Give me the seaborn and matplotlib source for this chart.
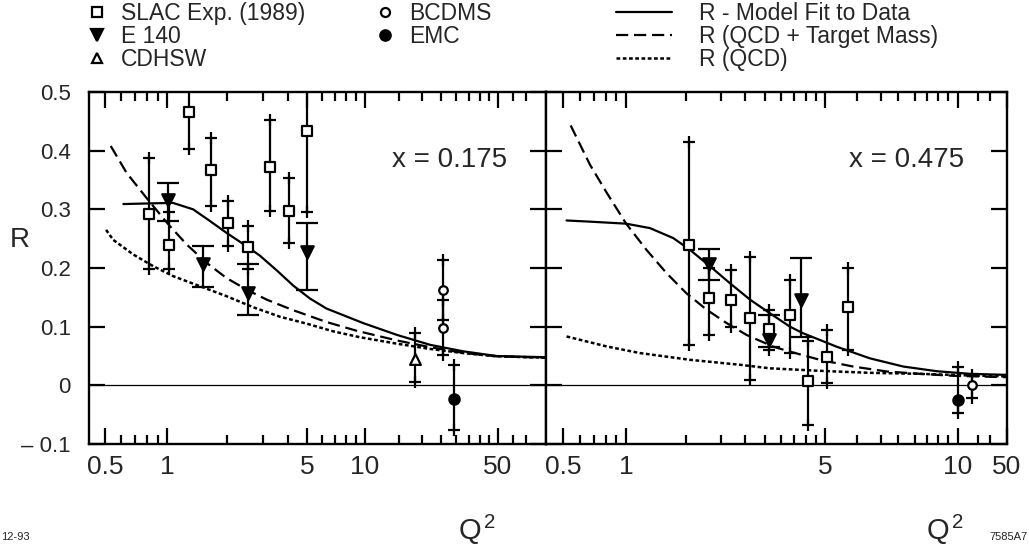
import numpy as np
import matplotlib
matplotlib.use("Agg")
import matplotlib.pyplot as plt
import seaborn as sns
from matplotlib.lines import Line2D

# ---------------- data ----------------
# panel x = 0.175
slac_q_a = [0.82, 1.02, 1.29, 1.65, 2.01, 2.53, 3.27, 4.06, 5.0]
slac_r_a = [0.292, 0.240, 0.466, 0.367, 0.276, 0.235, 0.373, 0.297, 0.433]
slac_lo_a = [0.199, 0.199, 0.402, 0.305, 0.237, 0.199, 0.297, 0.243, 0.295]
slac_hi_a = [0.388, 0.295, 0.530, 0.422, 0.314, 0.272, 0.453, 0.354, 0.570]

e140_q_a = [1.01, 1.51, 2.53, 5.0]
e140_r_a = [0.316, 0.206, 0.158, 0.228]
e140_lo_a = [0.280, 0.168, 0.120, 0.163]
e140_hi_a = [0.345, 0.237, 0.206, 0.276]

cdhsw_q_a = [18.2]
cdhsw_r_a = [0.045]
cdhsw_lo_a = [0.006]
cdhsw_hi_a = [0.089]

bcdms_q_a = [25.6, 25.6]
bcdms_r_a = [0.162, 0.098]
bcdms_lo_a = [0.112, 0.052]
bcdms_hi_a = [0.213, 0.145]

emc_q_a = [29.5]
emc_r_a = [-0.024]
emc_lo_a = [-0.076]
emc_hi_a = [0.035]

fit_q_a = [0.614, 0.80, 1.07, 1.35, 1.64, 1.98, 2.5, 2.91, 3.53, 4.27, 5.18, 6.3,
           9.8, 14.7, 22.0, 32.8, 49.0, 63.0, 89.0]
fit_r_a = [0.309, 0.310, 0.311, 0.300, 0.280, 0.260, 0.237, 0.221, 0.196, 0.170,
           0.148, 0.131, 0.106, 0.086, 0.069, 0.058, 0.050, 0.049, 0.048]
qcdtm_q_a = [0.533, 0.637, 0.797, 1.0, 1.254, 1.58, 1.98, 2.5, 3.15, 4.27, 6.3,
             9.05, 14.7, 22.0, 32.8, 49.0, 89.0]
qcdtm_r_a = [0.408, 0.362, 0.319, 0.277, 0.240, 0.2085, 0.183, 0.163, 0.146,
             0.128, 0.108, 0.093, 0.0765, 0.065, 0.0553, 0.0495, 0.047]
qcd_q_a = [0.506, 0.548, 0.686, 0.858, 1.075, 1.46, 1.98, 2.7, 3.66, 5.0, 6.84,
           9.4, 14.7, 22.0, 32.8, 49.0, 89.0]
qcd_r_a = [0.265, 0.248, 0.223, 0.203, 0.186, 0.169, 0.152, 0.133, 0.117, 0.105,
           0.092, 0.082, 0.071, 0.062, 0.055, 0.0495, 0.047]

# panel x = 0.475
slac_q_b = [1.67, 1.96, 2.34, 2.73, 3.18, 3.77, 4.35, 5.06, 5.63]
slac_r_b = [0.239, 0.149, 0.146, 0.115, 0.096, 0.120, 0.007, 0.049, 0.133]
slac_lo_b = [0.069, 0.086, 0.099, 0.009, 0.060, 0.055, -0.067, 0.004, 0.061]
slac_hi_b = [0.414, 0.200, 0.197, 0.219, 0.128, 0.180, 0.075, 0.095, 0.200]

e140_q_b = [1.96, 3.18, 4.13]
e140_r_b = [0.206, 0.078, 0.146]
e140_lo_b = [0.180, 0.065, 0.083]
e140_hi_b = [0.232, 0.120, 0.217]

emc_q_b = [9.97]
emc_r_b = [-0.025]
emc_lo_b = [-0.047]
emc_hi_b = [0.032]

bcdms_q_b = [15.7]
bcdms_r_b = [0.001]
bcdms_lo_b = [-0.022]
bcdms_hi_b = [0.018]

fit_q_b = [0.52, 0.673, 1.0, 1.214, 1.466, 1.678, 1.973, 2.32, 2.73, 3.2, 3.77,
           4.18, 5.31, 6.32, 7.52, 8.96, 14.8, 43.8, 50.0]
fit_r_b = [0.281, 0.279, 0.2756, 0.268, 0.251, 0.231, 0.203, 0.174, 0.146, 0.123,
           0.100, 0.089, 0.066, 0.046, 0.032, 0.024, 0.0196, 0.018, 0.018]
qcdtm_q_b = [0.544, 0.673, 0.81, 1.0, 1.18, 1.39, 1.63, 1.92, 2.26, 2.65, 3.29,
             3.67, 4.8, 5.79, 6.9, 8.2, 9.76, 43.8, 50.0]
qcdtm_r_b = [0.443, 0.376, 0.328, 0.276, 0.231, 0.191, 0.157, 0.129, 0.106, 0.086,
             0.066, 0.059, 0.0435, 0.032, 0.0236, 0.0196, 0.0162, 0.014, 0.014]
qcd_q_b = [0.52, 0.81, 1.12, 1.678, 2.52, 3.2, 4.8, 6.32, 8.2, 14.8, 43.8, 50.0]
qcd_r_b = [0.0833, 0.0662, 0.055, 0.0435, 0.035, 0.029, 0.0247, 0.0213, 0.0196,
           0.0168, 0.0156, 0.0155]

# axis labels
q_tick_vals = [0.5, 1, 5, 10, 50]
q_tick_text = ["0.5", "1", "5", "10", "50"]
r_tick_vals = [-0.1, 0.0, 0.1, 0.2, 0.3, 0.4, 0.5]
r_tick_text = ["\u2013 0.1", "0", "0.1", "0.2", "0.3", "0.4", "0.5"]
minor_a = [0.6, 0.7, 0.8, 0.9, 2, 3, 4, 6, 7, 8, 9, 15, 20, 25, 30, 35, 40, 45, 60, 70]
minor_b = [0.6, 0.7, 0.8, 0.9, 1.62, 2.15, 2.63, 3.08, 3.5, 3.9, 4.28, 4.65,
           5.9, 6.7, 7.3, 8.0, 8.5, 9.0, 9.5, 19, 29]

# the original Q^2 axes are hand drawn log axes: piecewise log scale
# (Q^2 value, fraction of axis width)
scale_a = ([0.418, 0.5, 1, 5, 10, 50, 89], [0.0, 0.035, 0.1707, 0.477, 0.604, 0.895, 1.0])
scale_b = ([0.415, 0.5, 1, 5, 10, 50], [0.0, 0.0369, 0.1735, 0.605, 0.894, 1.0])

sns.set_theme(style="ticks")
plt.rcParams["font.family"] = ["Liberation Sans", "DejaVu Sans"]
plt.rcParams["mathtext.fontset"] = "custom"
plt.rcParams["mathtext.rm"] = "Liberation Sans"
plt.rcParams["mathtext.it"] = "Liberation Sans"
plt.rcParams["axes.linewidth"] = 1.7
plt.rcParams["axes.edgecolor"] = "black"

DASH = (0, (5.5, 2.6))
DOT = (0, (1.5, 1.0))


def make_scale(qs, us):
    lq = np.log10(qs)

    def fwd(q):
        q = np.clip(np.asarray(q, dtype=float), 1e-6, None)
        return np.interp(np.log10(q), lq, us)

    def inv(u):
        return 10 ** np.interp(np.asarray(u, dtype=float), us, lq)
    return fwd, inv


def draw_points(ax, q, r, lo, hi, marker, face, size, ends):
    q = np.asarray(q, float)
    r = np.asarray(r, float)
    lo = np.asarray(lo, float)
    hi = np.asarray(hi, float)
    ax.errorbar(q, r, yerr=[r - lo, hi - r], fmt="none", ecolor="black",
                elinewidth=1.6, capsize=8 if ends == "cap" else 0,
                capthick=1.6, zorder=3)
    if ends == "plus":
        ax.plot(np.r_[q, q], np.r_[lo, hi], ls="none", marker="+", ms=8.5,
                mew=1.6, color="black", zorder=3)
    sns.scatterplot(x=q, y=r, marker=marker, s=size, color=face,
                    edgecolor="black", linewidth=1.6, zorder=4, ax=ax)


fig = plt.figure(figsize=(10.29, 5.48), dpi=100)
ax1 = fig.add_axes([0.0865, 0.1898, 0.4441, 0.6423])
ax2 = fig.add_axes([0.5306, 0.1898, 0.4480, 0.6423])

# curves
for ax, (fq, fr, tq, tr, cq, cr) in [
        (ax1, (fit_q_a, fit_r_a, qcdtm_q_a, qcdtm_r_a, qcd_q_a, qcd_r_a)),
        (ax2, (fit_q_b, fit_r_b, qcdtm_q_b, qcdtm_r_b, qcd_q_b, qcd_r_b))]:
    sns.lineplot(x=fq, y=fr, sort=False, estimator=None, color="black", lw=1.6, ax=ax)
    sns.lineplot(x=tq, y=tr, sort=False, estimator=None, color="black", lw=1.6,
                 linestyle=DASH, ax=ax)
    sns.lineplot(x=cq, y=cr, sort=False, estimator=None, color="black", lw=1.8,
                 linestyle=DOT, ax=ax)
    ax.axhline(0, color="black", lw=0.9, zorder=1)

# data points
draw_points(ax1, slac_q_a, slac_r_a, slac_lo_a, slac_hi_a, "s", "white", 44, "plus")
draw_points(ax1, e140_q_a, e140_r_a, e140_lo_a, e140_hi_a, "v", "black", 80, "cap")
draw_points(ax1, cdhsw_q_a, cdhsw_r_a, cdhsw_lo_a, cdhsw_hi_a, "^", "white", 60, "plus")
draw_points(ax1, bcdms_q_a, bcdms_r_a, bcdms_lo_a, bcdms_hi_a, "o", "white", 38, "plus")
draw_points(ax1, emc_q_a, emc_r_a, emc_lo_a, emc_hi_a, "o", "black", 55, "plus")

draw_points(ax2, slac_q_b, slac_r_b, slac_lo_b, slac_hi_b, "s", "white", 44, "plus")
draw_points(ax2, e140_q_b, e140_r_b, e140_lo_b, e140_hi_b, "v", "black", 80, "cap")
draw_points(ax2, emc_q_b, emc_r_b, emc_lo_b, emc_hi_b, "o", "black", 55, "plus")
draw_points(ax2, bcdms_q_b, bcdms_r_b, bcdms_lo_b, bcdms_hi_b, "o", "white", 38, "plus")

# axes
for ax, sc, minors in [(ax1, scale_a, minor_a), (ax2, scale_b, minor_b)]:
    ax.set_xscale("function", functions=make_scale(*sc))
    ax.set_xlim(sc[0][0], sc[0][-1])
    ax.set_ylim(-0.1, 0.5)
    ax.set_xticks(q_tick_vals, q_tick_text)
    ax.set_xticks(minors, minor=True)
    ax.set_yticks(r_tick_vals, r_tick_text)
    ax.tick_params(which="both", direction="in", top=True, right=True,
                   width=1.6, color="black")
    ax.tick_params(which="major", length=11.5)
    ax.tick_params(which="minor", length=6.5)
    ax.tick_params(axis="x", labelsize=19, pad=8)
    ax.tick_params(axis="y", labelsize=16, pad=13)
    ax.set_xlabel("Q$^{\\,2}$", fontsize=21)
    ax.set_ylabel("")
    for s in ax.spines.values():
        s.set_visible(True)
        s.set_linewidth(1.7)

ax2.tick_params(axis="y", labelleft=False)
ax1.xaxis.set_label_coords(0.849, -0.195)
ax2.xaxis.set_label_coords(0.866, -0.195)
ax1.set_ylabel("R", fontsize=20, rotation=0, va="center", ha="center")
ax1.yaxis.set_label_coords(-0.151, 0.58)

ax1.text(0.79, 0.807, "x = 0.175", transform=ax1.transAxes, fontsize=20,
         ha="center", va="center")
ax2.text(0.782, 0.807, "x = 0.475", transform=ax2.transAxes, fontsize=20,
         ha="center", va="center")

# legends
blank = Line2D([], [], ls="none")
mk = dict(ls="none", color="black", mec="black", mew=1.6)
h_pts = [Line2D([], [], marker="s", mfc="white", ms=6.5, **mk),
         Line2D([], [], marker="v", mfc="black", ms=8, **mk),
         Line2D([], [], marker="^", mfc="white", ms=7.5, **mk),
         Line2D([], [], marker="o", mfc="white", ms=6.5, **mk),
         Line2D([], [], marker="o", mfc="black", ms=7.5, **mk),
         blank]
l_pts = ["SLAC Exp. (1989)", "E 140", "CDHSW", "BCDMS", "EMC", ""]
fig.legend(h_pts, l_pts, loc="upper left", bbox_to_anchor=(0.0831, 0.997),
           ncol=2, frameon=False, fontsize=16.5, handlelength=1.0,
           handletextpad=0.55, columnspacing=3.0, labelspacing=0.0,
           borderpad=0, borderaxespad=0)

h_lin = [Line2D([], [], color="black", lw=1.6),
         Line2D([], [], color="black", lw=1.6, ls=DASH),
         Line2D([], [], color="black", lw=1.8, ls=DOT)]
l_lin = ["R - Model Fit to Data", "R (QCD + Target Mass)", "R (QCD)"]
fig.legend(h_lin, l_lin, loc="upper left", bbox_to_anchor=(0.5986, 0.997),
           frameon=False, fontsize=16.5, handlelength=2.44, handletextpad=1.18,
           labelspacing=0.0, borderpad=0, borderaxespad=0)

fig.text(0.001, 1 - 537 / 548, "12-93", fontsize=8, va="center", ha="left")
fig.text(0.999, 1 - 537 / 548, "7585A7", fontsize=8, va="center", ha="right")

fig.savefig("out.png", dpi=100, facecolor="white")
